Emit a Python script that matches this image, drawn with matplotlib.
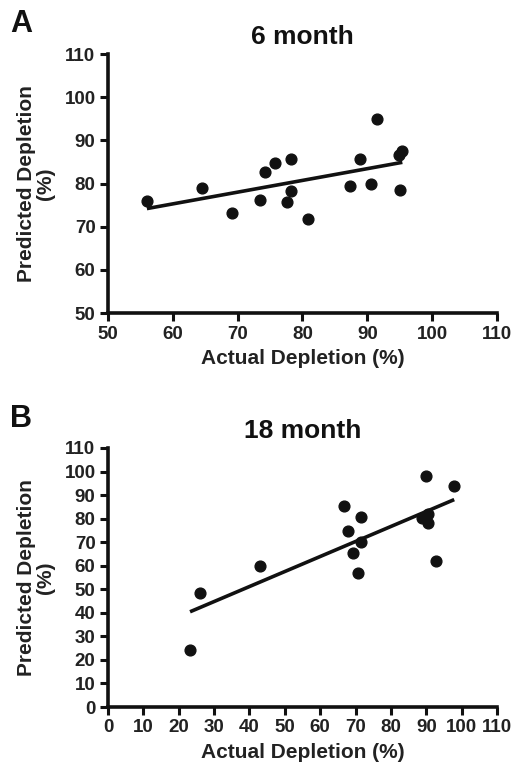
import matplotlib
matplotlib.use("Agg")
from matplotlib import pyplot as plt
import numpy as np

plt.rcParams['font.family'] = ['Liberation Sans', 'DejaVu Sans']
plt.rcParams['font.weight'] = 'bold'

# panel A: 6 month
actual_6 = [56.0, 64.5, 69.2, 73.5, 74.2, 75.8, 77.6, 78.2, 78.3, 80.8,
            87.4, 88.9, 90.6, 91.5, 95.0, 94.9, 95.4]
pred_6 = [76.0, 78.9, 73.2, 76.2, 82.6, 84.7, 75.8, 85.6, 78.3, 71.7,
          79.4, 85.6, 79.8, 94.9, 78.6, 86.5, 87.6]

# panel B: 18 month
actual_18 = [23.2, 25.9, 43.1, 66.7, 67.8, 69.2, 70.8, 71.5, 71.5,
             89.8, 88.7, 90.4, 90.6, 92.8, 97.9]
pred_18 = [24.4, 48.4, 59.9, 85.5, 74.8, 65.6, 56.8, 80.9, 70.0,
           97.9, 80.2, 82.0, 78.1, 62.2, 94.0]

W, H = 515, 769
fig = plt.figure(figsize=(W / 100, H / 100), dpi=100)


def panel(rect, x, y, xlim, ylim, ticks, title, letter, letter_y):
    ax = fig.add_axes(rect)
    ax.scatter(x, y, s=60, color="#111111", zorder=3, clip_on=False)
    x = np.array(x)
    m, b = np.polyfit(x, y, 1)
    xs = np.array([x.min(), x.max()])
    ax.plot(xs, m * xs + b, color="#111111", linewidth=2.6, solid_capstyle="butt")
    ax.set_xlim(*xlim)
    ax.set_ylim(*ylim)
    ax.set_xticks(ticks[0])
    ax.set_yticks(ticks[1])
    for s in ["top", "right"]:
        ax.spines[s].set_visible(False)
    for s in ["left", "bottom"]:
        ax.spines[s].set_linewidth(2.6)
        ax.spines[s].set_color("#111111")
    ax.tick_params(width=2.2, length=6, labelsize=13.5, color="#111111", pad=3)
    for lab in ax.get_xticklabels() + ax.get_yticklabels():
        lab.set_fontweight("bold")
        lab.set_color("#222222")
    ax.set_xlabel("Actual Depletion (%)", fontsize=15, fontweight="bold",
                  color="#222222", labelpad=5)
    ax.set_ylabel("Predicted Depletion\n(%)", fontsize=15, fontweight="bold",
                  color="#222222", labelpad=7, linespacing=1.0)
    ax.set_title(title, fontsize=19, fontweight="bold", pad=7, color="#111111")
    fig.text(10 / W, 1 - letter_y / H, letter, fontsize=22, fontweight="bold",
             va="center", ha="left", color="#111111")
    return ax


panel([108 / W, 1 - 313 / H, 389 / W, 259 / H], actual_6, pred_6,
      (50, 110), (50, 110),
      (np.arange(50, 111, 10), np.arange(50, 111, 10)),
      "6 month", "A", 24)

panel([108 / W, 1 - 707 / H, 389 / W, 259 / H], actual_18, pred_18,
      (0, 110), (0, 110),
      (np.arange(0, 111, 10), np.arange(0, 111, 10)),
      "18 month", "B", 419)

fig.savefig("out.png", dpi=100)
